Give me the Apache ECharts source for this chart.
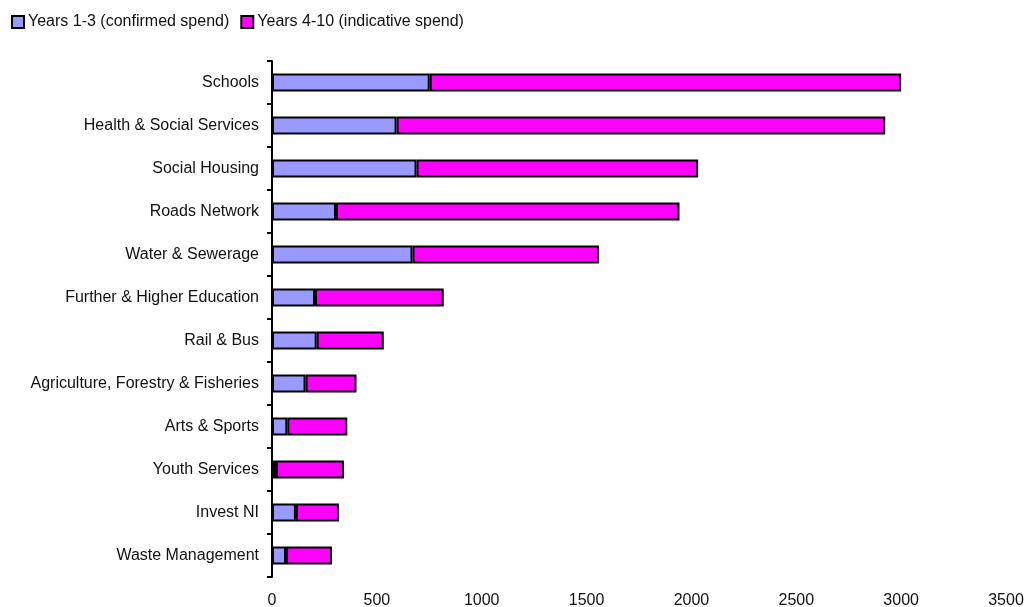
<!DOCTYPE html>
<html>
<head>
<meta charset="utf-8">
<script src="https://cdn.jsdelivr.net/npm/echarts@6/dist/echarts.min.js"></script>
<style>
  html, body { margin: 0; padding: 0; background: #fff; }
  #chart { width: 1024px; height: 607px; }
</style>
</head>
<body>
<div id="chart"></div>
<script>
const categories = [
  'Schools', 'Health & Social Services', 'Social Housing', 'Roads Network',
  'Water & Sewerage', 'Further & Higher Education', 'Rail & Bus',
  'Agriculture, Forestry & Fisheries', 'Arts & Sports', 'Youth Services',
  'Invest NI', 'Waste Management'
];
const years1to3 = [752, 594, 689, 305, 670, 205, 213, 160, 73, 19, 114, 67];
const years4to10 = [2248, 2330, 1343, 1638, 889, 614, 320, 243, 286, 324, 205, 219];
const seriesNames = ['Years 1-3 (confirmed spend)', 'Years 4-10 (indicative spend)'];

const chart = echarts.init(document.getElementById('chart'), null, { renderer: 'canvas' });
const font = 'Liberation Sans, Arial, sans-serif';
chart.setOption({
  animation: false,
  backgroundColor: '#ffffff',
  textStyle: { fontFamily: font },
  legend: {
    left: 6, top: 9,
    itemWidth: 12, itemHeight: 12, itemGap: 11,
    icon: 'rect',
    textStyle: { fontSize: 16, color: '#111', fontFamily: font, padding: [0, 0, 0, -1] },
    data: seriesNames
  },
  grid: { left: 272, right: 18, top: 61, bottom: 30, containLabel: false, outerBoundsMode: 'none' },
  xAxis: {
    type: 'value', min: 0, max: 3500, interval: 500,
    axisLine: { show: false }, axisTick: { show: false }, splitLine: { show: false },
    axisLabel: { fontSize: 16, color: '#111', margin: 16, fontFamily: font,
      formatter: function (v) { return String(v); } }
  },
  yAxis: {
    type: 'category', data: categories, inverse: true,
    axisLine: { show: true, lineStyle: { color: '#000', width: 2 } },
    axisTick: { show: true, length: 5, lineStyle: { color: '#000', width: 2 } },
    axisLabel: { fontSize: 16, color: '#111', margin: 13, fontFamily: font }
  },
  series: [
    {
      name: seriesNames[0], type: 'bar', stack: 'total', data: years1to3,
      barWidth: 18,
      itemStyle: { color: '#9999FF', borderColor: '#000', borderWidth: 2 }
    },
    {
      name: seriesNames[1], type: 'bar', stack: 'total', data: years4to10,
      barWidth: 18,
      itemStyle: { color: '#FF00FF', borderColor: '#000', borderWidth: 2 }
    }
  ]
});
</script>
</body>
</html>
